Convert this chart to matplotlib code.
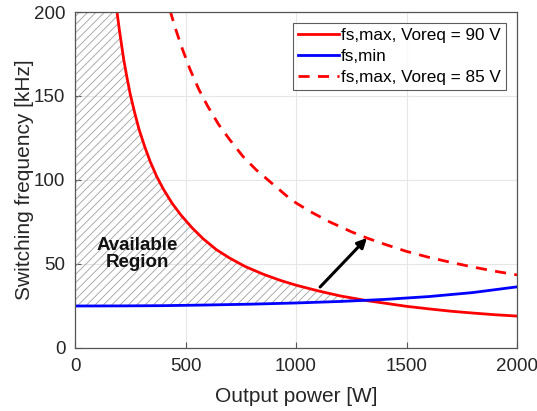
import numpy as np
import matplotlib
matplotlib.use("Agg")
import matplotlib.pyplot as plt

plt.rcParams['font.family'] = ['Liberation Sans', 'DejaVu Sans']

# fs,max at Voreq = 90 V
p_max90 = [190, 200, 210, 220, 235, 250, 270, 290, 315, 340, 370, 400, 440, 480,
           530, 580, 640, 700, 770, 850, 930, 1000, 1100, 1200, 1320, 1400, 1500,
           1600, 1700, 1800, 1900, 2000]
f_max90 = [200, 190, 181, 172, 161, 151, 140, 130, 120, 111, 102, 94.5, 86, 79,
           71.5, 65, 58.5, 53.5, 48.5, 44, 40.2, 37.4, 34, 31, 28.2, 26.7, 24.8,
           23.3, 21.9, 20.8, 19.8, 19]
# fs,min
p_min = [0, 200, 400, 600, 800, 1000, 1200, 1400, 1600, 1800, 2000]
f_min = [25, 25.05, 25.2, 25.6, 26.1, 26.8, 27.7, 28.9, 30.6, 33.0, 36.4]
# fs,max at Voreq = 85 V
p_max85 = [430, 450, 480, 520, 560, 600, 650, 700, 760, 820, 900, 980, 1060, 1150,
           1250, 1320, 1400, 1500, 1600, 1700, 1800, 1900, 2000]
f_max85 = [201, 192, 180, 166, 154, 144, 133, 124, 114, 106, 97, 88, 81.5, 75.2,
           69.2, 65.5, 61.8, 57.5, 54, 51, 48.2, 45.7, 43.5]

labels = ['fs,max, Voreq = 90 V', 'fs,min', 'fs,max, Voreq = 85 V']
xticks = [0, 500, 1000, 1500, 2000]
yticks = [0, 50, 100, 150, 200]

fig = plt.figure(figsize=(5.37, 4.11), dpi=100)
ax = fig.add_axes([0.1397, 0.1533, 0.8231, 0.8175])

# hatched available region
plt.rcParams['hatch.color'] = '#a0a0a0'
plt.rcParams['hatch.linewidth'] = 0.6
pg = np.linspace(0, 2000, 1601)
top = np.minimum(np.interp(pg, p_max90, f_max90, left=400), 200)
bot = np.interp(pg, p_min, f_min)
ax.fill_between(pg, bot, top, where=top >= bot, facecolor='none',
                edgecolor='#a0a0a0', hatch='////', linewidth=0, interpolate=True)

ax.plot(p_max90, f_max90, color='#ff0000', lw=2.0, label=labels[0])
ax.plot(p_min, f_min, color='#0000ff', lw=2.0, label=labels[1])
ax.plot(p_max85, f_max85, color='#ff0000', lw=2.0, ls=(0, (4, 3)), label=labels[2])

ax.annotate('', xy=(1321, 65.5), xytext=(1109, 36.3),
            arrowprops=dict(arrowstyle='-|>', color='black', lw=2.2,
                            mutation_scale=14, shrinkA=0, shrinkB=0))
ax.text(283, 56, 'Available\nRegion', ha='center', va='center', fontsize=13.5,
        fontweight='bold', linespacing=1.05, color='#111111')

ax.set_xlim(0, 2000)
ax.set_ylim(0, 200)
ax.set_xticks(xticks)
ax.set_yticks(yticks)
ax.grid(True, color='#e6e6e6', lw=0.8)
ax.set_axisbelow(True)
for s in ax.spines.values():
    s.set_color('#555555')
    s.set_linewidth(0.9)
ax.tick_params(direction='in', length=4, colors='#555555', labelcolor='#262626',
               labelsize=13.5, pad=7)
ax.set_xlabel('Output power [W]', fontsize=15, color='#262626', labelpad=9)
ax.set_ylabel('Switching frequency [kHz]', fontsize=15, color='#262626', labelpad=0)

leg = ax.legend(loc='upper right', fontsize=12.3, frameon=True, fancybox=False,
                edgecolor='#333333', handlelength=2.4, handletextpad=0.1,
                borderpad=0.3, labelspacing=0.35, borderaxespad=0.65)
leg.get_frame().set_linewidth(0.8)

fig.savefig('out.png', dpi=100)
